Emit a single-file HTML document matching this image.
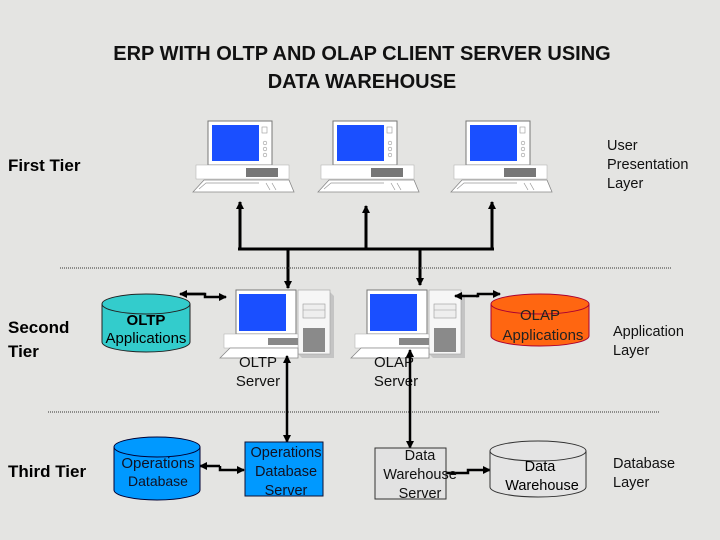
<!DOCTYPE html>
<html><head><meta charset="utf-8"><style>
html,body{margin:0;padding:0;background:#e4e4e2;}
svg{display:block;font-family:"Liberation Sans",Arial,sans-serif;}
</style></head><body>
<svg width="720" height="540" viewBox="0 0 720 540" xmlns="http://www.w3.org/2000/svg">
<defs>
<marker id="ah" markerWidth="8" markerHeight="8" refX="7" refY="4" orient="auto" markerUnits="userSpaceOnUse"><path d="M0,0 L8,4 L0,8 z" fill="#000"/></marker>
<g id="pc">
<rect x="12" y="0" width="64" height="44" fill="#fff" stroke="#777" stroke-width="1"/>
<rect x="16" y="4" width="47" height="36" fill="#1a4fff"/>
<rect x="66" y="6" width="5" height="6" fill="none" stroke="#999" stroke-width="0.6"/>
<circle cx="69" cy="22" r="1.8" fill="none" stroke="#999" stroke-width="0.6"/>
<circle cx="69" cy="28" r="1.8" fill="none" stroke="#999" stroke-width="0.6"/>
<circle cx="69" cy="34" r="1.8" fill="none" stroke="#999" stroke-width="0.6"/>
<rect x="0" y="44" width="93" height="14" fill="#fff" stroke="#aaa" stroke-width="0.5"/>
<rect x="50" y="47" width="32" height="9" fill="#777"/>
<path d="M-3,71 L8,59 L93,59 L98,71 Z" fill="#fff" stroke="#888" stroke-width="0.8"/>
<path d="M3,68 L10,62 L63,62 M70,62 L74,69 M76,62 L80,69" fill="none" stroke="#999" stroke-width="0.7"/>
</g>
<g id="srv">
<path d="M108,4 L112,8 L112,70 L80,70 L76,66 L108,66 Z" fill="#c4c4c4"/>
<rect x="76" y="2" width="32" height="64" fill="#f6f6f6" stroke="#aaa" stroke-width="0.7"/>
<rect x="81" y="16" width="22" height="14" fill="#eee" stroke="#999" stroke-width="0.6"/>
<line x1="81" y1="22" x2="103" y2="22" stroke="#999" stroke-width="0.6"/>
<rect x="81" y="40" width="22" height="24" fill="#8a8a8a"/>
<rect x="14" y="2" width="60" height="44" fill="#fff" stroke="#777" stroke-width="1"/>
<rect x="17" y="6" width="47" height="37" fill="#1a4fff"/>
<rect x="2" y="46" width="74" height="14" fill="#fff" stroke="#aaa" stroke-width="0.5"/>
<rect x="46" y="50" width="30" height="7" fill="#888"/>
<path d="M-2,70 L8,60 L76,60 L76,70 Z" fill="#fff" stroke="#888" stroke-width="0.8"/>
</g>
</defs>
<text x="362" y="60" text-anchor="middle" font-size="20" font-weight="bold" fill="#111">ERP WITH OLTP AND OLAP CLIENT SERVER USING</text>
<text x="362" y="88" text-anchor="middle" font-size="20" font-weight="bold" fill="#111">DATA WAREHOUSE</text>

<use href="#pc" x="196" y="121"/>
<use href="#pc" x="321" y="121"/>
<use href="#pc" x="454" y="121"/>

<g stroke="#000" stroke-width="3" fill="none">
<line x1="240" y1="249" x2="240" y2="202" marker-end="url(#ah)"/>
<line x1="366" y1="249" x2="366" y2="206" marker-end="url(#ah)"/>
<line x1="492" y1="249" x2="492" y2="202" marker-end="url(#ah)"/>
<line x1="238" y1="249" x2="494" y2="249"/>
<line x1="288" y1="249" x2="288" y2="288" marker-end="url(#ah)"/>
<line x1="420" y1="249" x2="420" y2="285" marker-end="url(#ah)"/>
</g>

<line x1="60" y1="268" x2="671" y2="268" stroke="#333" stroke-width="1" stroke-dasharray="1,1"/>
<line x1="48" y1="412" x2="660" y2="412" stroke="#333" stroke-width="1" stroke-dasharray="1,1"/>

<text x="8" y="171" font-size="17" font-weight="bold">First Tier</text>
<text x="8" y="333" font-size="17" font-weight="bold">Second</text>
<text x="8" y="357" font-size="17" font-weight="bold">Tier</text>
<text x="8" y="477" font-size="17" font-weight="bold">Third Tier</text>
<g font-size="14.5" fill="#111">
<text x="607" y="150">User</text><text x="607" y="169">Presentation</text><text x="607" y="188">Layer</text>
<text x="613" y="336">Application</text><text x="613" y="355">Layer</text>
<text x="613" y="468">Database</text><text x="613" y="487">Layer</text>
</g>

<path d="M102,304 L102,342 A44,10 0 0 0 190,342 L190,304" fill="#33cccc" stroke="#222"/>
<ellipse cx="146" cy="304" rx="44" ry="10" fill="#33cccc" stroke="#222"/>
<text x="146" y="325" text-anchor="middle" font-size="15" font-weight="bold">OLTP</text>
<text x="146" y="343" text-anchor="middle" font-size="15">Applications</text>

<path d="M491,304 L491,336 A49,10 0 0 0 589,336 L589,304" fill="#ff6611" stroke="#a03"/>
<ellipse cx="540" cy="304" rx="49" ry="10" fill="#ff6611" stroke="#a03"/>
<text x="540" y="320" text-anchor="middle" font-size="15" fill="#222">OLAP</text>
<text x="543" y="340" text-anchor="middle" font-size="15" fill="#222">Applications</text>

<use href="#srv" x="222" y="288"/>
<use href="#srv" x="353" y="288"/>

<g font-size="15" fill="#111" text-anchor="middle">
<text x="258" y="367">OLTP</text><text x="258" y="386">Server</text>
<text x="394" y="367">OLAP</text><text x="396" y="386">Server</text>
</g>

<g stroke="#000" stroke-width="2.5" fill="none">
<polyline points="183,294 205,294 205,297 226,297" marker-end="url(#ah)"/>
<line x1="205" y1="294" x2="180" y2="294" marker-end="url(#ah)"/>
<polyline points="476,296 478,296 478,294 500,294" marker-end="url(#ah)"/>
<line x1="478" y1="296" x2="455" y2="296" marker-end="url(#ah)"/>
<line x1="287" y1="400" x2="287" y2="356" marker-end="url(#ah)"/>
<line x1="287" y1="400" x2="287" y2="442" marker-end="url(#ah)"/>
<line x1="410" y1="400" x2="410" y2="350" marker-end="url(#ah)"/>
<line x1="410" y1="400" x2="410" y2="448" marker-end="url(#ah)"/>
<polyline points="220,466 220,470 244,470" marker-end="url(#ah)"/>
<line x1="220" y1="466" x2="200" y2="466" marker-end="url(#ah)"/>
<polyline points="446,473 468,473 468,470 490,470" marker-end="url(#ah)"/>
</g>

<path d="M114,447 L114,490 A43,10 0 0 0 200,490 L200,447" fill="#0099ff" stroke="#003"/>
<ellipse cx="157" cy="447" rx="43" ry="10" fill="#0099ff" stroke="#003"/>
<text x="158" y="468" text-anchor="middle" font-size="15" fill="#112">Operations</text>
<text x="158" y="486" text-anchor="middle" font-size="14" fill="#112">Database</text>

<rect x="245" y="442" width="78" height="54" fill="#0099ff" stroke="#113"/>
<g font-size="14.5" fill="#112" text-anchor="middle">
<text x="286" y="457">Operations</text><text x="286" y="476">Database</text><text x="286" y="495">Server</text>
</g>

<rect x="375" y="448" width="71" height="51" fill="#e2e2e2" stroke="#333"/>
<g font-size="14.5" fill="#111" text-anchor="middle">
<text x="420" y="460">Data</text><text x="420" y="479">Warehouse</text><text x="420" y="498">Server</text>
</g>

<path d="M490,451 L490,487 A48,10 0 0 0 586,487 L586,451" fill="#e4e4e4" stroke="#333"/>
<ellipse cx="538" cy="451" rx="48" ry="10" fill="#e4e4e4" stroke="#333"/>
<text x="540" y="471" text-anchor="middle" font-size="14.5">Data</text>
<text x="542" y="490" text-anchor="middle" font-size="14.5">Warehouse</text>
</svg>
</body></html>
